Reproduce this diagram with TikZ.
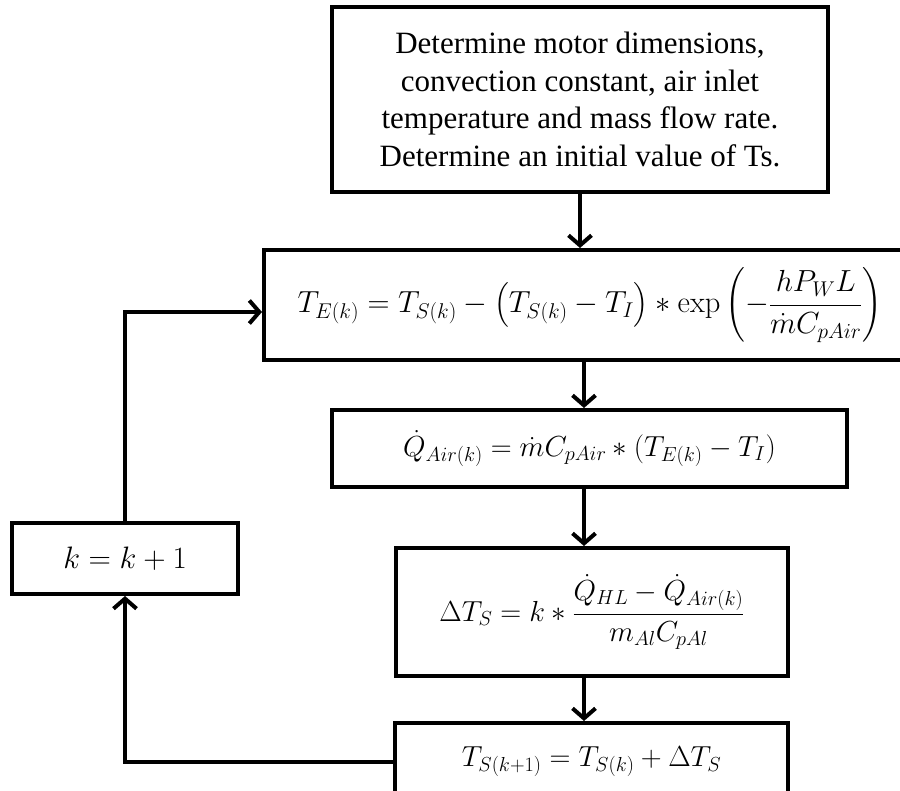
\RequirePackage{fix-cm}
\documentclass[tikz,border=0pt]{standalone}
\usepackage{amsmath}
\usepackage[no-math]{fontspec}
\setmainfont{Liberation Serif}
\usetikzlibrary{arrows.meta}
\tikzset{
  blk/.style={draw, line width=4pt, inner sep=0pt, align=center, rectangle},
  arr/.style={line width=4pt, -{Straight Barb[length=10pt,width=23pt,line width=4pt]}}
}
\newcommand{\eqsize}{\fontsize{29}{35}\selectfont}
\begin{document}
\begin{tikzpicture}[x=1pt,y=-1pt]
\clip (0,0) rectangle (900,791);
\fill[white] (0,0) rectangle (900,791);
\node[blk, minimum width=496pt, minimum height=185pt, font=\fontsize{31}{37.5}\selectfont] (A) at (580,99.5)
  {Determine motor dimensions,\\convection constant, air inlet\\temperature and mass flow rate.\\Determine an initial value of Ts.};
\node[blk, minimum width=646pt, minimum height=110pt, font=\fontsize{30.5}{36}\selectfont] (B) at (587,305)
  {\hspace*{6pt}$T_{E(k)} = T_{S(k)} - \left(T_{S(k)} - T_I\right) * \exp\left(-\dfrac{hP_WL}{\dot m C_{pAir}}\right)$};
\node[blk, minimum width=515pt, minimum height=77pt, font=\eqsize] (C) at (589.5,448.5)
  {$\dot Q_{Air(k)} = \dot m C_{pAir} * (T_{E(k)} - T_I)$};
\node[blk, minimum width=226pt, minimum height=71pt, font=\fontsize{31}{36}\selectfont] (K) at (125,558.5)
  {$k = k + 1$};
\node[blk, minimum width=392pt, minimum height=128pt, font=\eqsize] (D) at (592,612)
  {$\Delta T_S = k * \dfrac{\dot Q_{HL} - \dot Q_{Air(k)}}{m_{Al} C_{pAl}}$};
\node[blk, minimum width=393pt, minimum height=78pt, font=\eqsize] (E) at (591.5,762)
  {\raisebox{5pt}{$T_{S(k+1)} = T_{S(k)} + \Delta T_S$}};
\coordinate (ax) at (584,0);
\draw[arr] (A.south) -- (A.south |- B.north);
\draw[arr] (ax |- B.south) -- (ax |- C.north);
\draw[arr] (ax |- C.south) -- (ax |- D.north);
\draw[arr] (ax |- D.south) -- (ax |- E.north);
\draw[arr] (E.west) -| (K.south);
\draw[arr] (K.north) |- ([yshift=-7pt]B.west);
\end{tikzpicture}
\end{document}
